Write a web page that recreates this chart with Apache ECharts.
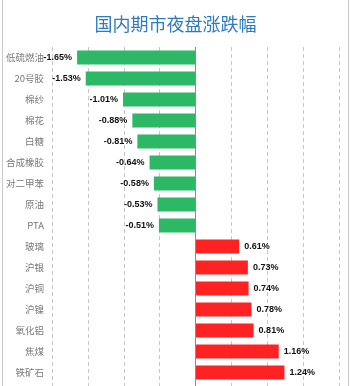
<!DOCTYPE html>
<html>
<head>
<meta charset="utf-8">
<script src="https://cdn.jsdelivr.net/npm/echarts@6/dist/echarts.min.js"></script>
<style>
  html, body { margin: 0; padding: 0; background: #fff; overflow: hidden; }
  /* 图表比窗口高，底部一根柱子被裁掉，与原图一致 */
  #chart { width: 351px; height: 410px; }
</style>
</head>
<body>
<div id="chart"></div>
<script>
// 品种与夜盘涨跌幅(%)
const categories = ['低硫燃油', '20号胶', '棉纱', '棉花', '白糖', '合成橡胶', '对二甲苯', '原油', 'PTA',
  '玻璃', '沪银', '沪铜', '沪镍', '氧化铝', '焦煤', '铁矿石', '焦炭'];
const changes = [-1.65, -1.53, -1.01, -0.88, -0.81, -0.64, -0.58, -0.53, -0.51,
  0.61, 0.73, 0.74, 0.78, 0.81, 1.16, 1.24, 1.38];
const xTicks = [-2, 2, 0.5]; // min, max, interval

const upColor = '#fe2222';
const downColor = '#2db865';

const chart = echarts.init(document.getElementById('chart'));

const barData = changes.map(v => ({
  value: v,
  itemStyle: { color: v < 0 ? downColor : upColor },
  label: { position: v < 0 ? 'left' : 'right' }
}));

chart.setOption({
  backgroundColor: '#fff',
  animation: false,
  title: {
    text: '国内期市夜盘涨跌幅',
    left: 'center',
    top: 10,
    textStyle: {
      color: '#2f7bbf',
      fontSize: 18,
      fontWeight: 'normal',
      fontFamily: 'Noto Sans CJK SC'
    }
  },
  graphic: [
    { type: 'line', shape: { x1: 2.5, y1: 0, x2: 2.5, y2: 410 }, style: { stroke: '#c8c8c8', lineWidth: 1 } },
    { type: 'line', shape: { x1: 348.5, y1: 0, x2: 348.5, y2: 410 }, style: { stroke: '#c8c8c8', lineWidth: 1 } }
  ],
  grid: { left: 52, right: 12, top: 47, height: 357 },
  xAxis: {
    type: 'value',
    min: xTicks[0],
    max: xTicks[1],
    interval: xTicks[2],
    axisLabel: { show: false },
    axisLine: { show: false },
    axisTick: { show: false },
    splitLine: {
      show: true,
      lineStyle: { color: '#c6c6c6', type: [4, 3], width: 1 }
    }
  },
  yAxis: {
    type: 'category',
    data: categories,
    inverse: true,
    axisLine: { show: false },
    axisTick: { show: false },
    splitLine: { show: false },
    axisLabel: {
      color: '#7a7a7a',
      fontSize: 9.5,
      margin: 8,
      fontFamily: 'Noto Sans CJK SC'
    }
  },
  series: [{
    type: 'bar',
    data: barData,
    barWidth: 14,
    label: {
      show: true,
      distance: 5,
      color: '#111',
      fontSize: 9,
      fontWeight: 'bold',
      fontFamily: 'Liberation Sans Narrow, Liberation Sans, Arial',
      formatter: p => p.value.toFixed(2) + '%'
    },
    markLine: {
      silent: true,
      symbol: 'none',
      label: { show: false },
      lineStyle: { color: '#8c8c8c', type: 'solid', width: 1 },
      data: [{ xAxis: 0 }]
    }
  }]
});
</script>
</body>
</html>
